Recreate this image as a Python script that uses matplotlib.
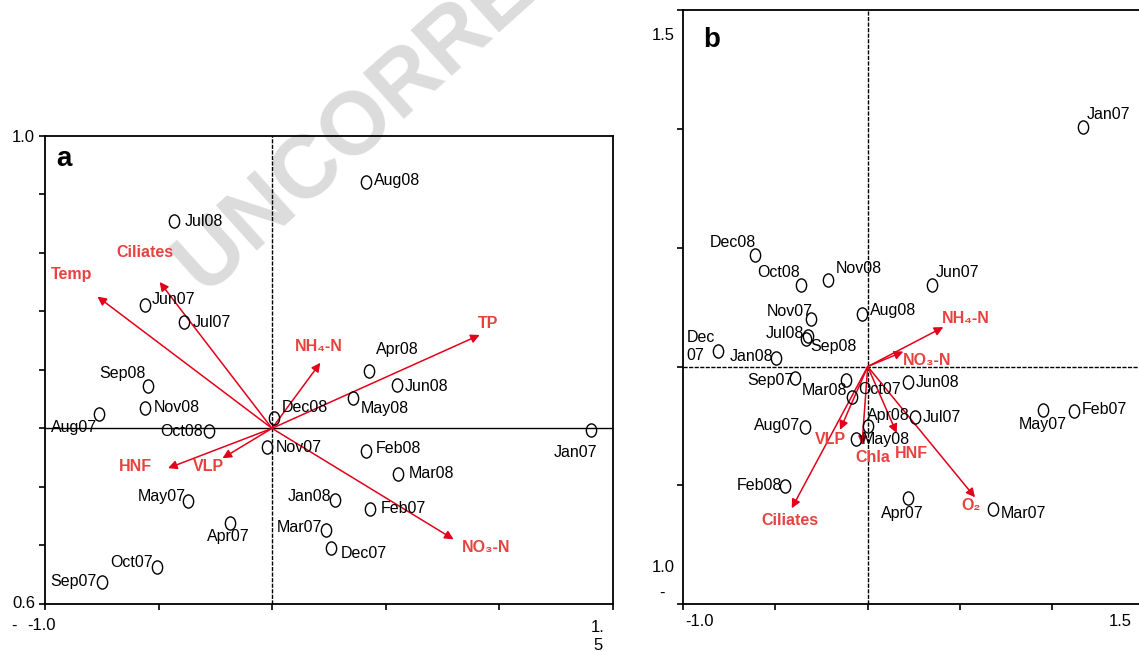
import numpy as np
import matplotlib
matplotlib.use("Agg")
import matplotlib.pyplot as plt
from matplotlib.path import Path
from matplotlib.transforms import Affine2D

plt.rcParams["font.family"] = ["Liberation Sans", "DejaVu Sans"]

W, H = 1139, 651
ARROW_C, VAR_C = "#e2001a", "#e8423f"

# ---- panel a: sample scores ----
a_names = ["Aug08", "Jul08", "Jun07", "Jul07", "Sep08", "Nov08", "Aug07", "Oct08",
           "Dec08", "Nov07", "May07", "Apr07", "Oct07", "Sep07", "Apr08", "Jun08",
           "May08", "Jan07", "Feb08", "Mar08", "Jan08", "Feb07", "Mar07", "Dec07"]
a_x = [0.413, -0.433, -0.561, -0.389, -0.548, -0.558, -0.763, -0.279,
       0.007, -0.022, -0.370, -0.186, -0.507, -0.749, 0.427, 0.549,
       0.359, 1.405, 0.414, 0.555, 0.279, 0.430, 0.237, 0.259]
a_y = [0.842, 0.708, 0.421, 0.363, 0.145, 0.069, 0.049, -0.008,
       0.035, -0.065, -0.248, -0.324, -0.472, -0.524, 0.196, 0.148,
       0.103, -0.005, -0.076, -0.156, -0.245, -0.276, -0.347, -0.410]

# ---- panel a: explanatory variables ----
a_vars = ["Temp", "Ciliates", "NH₄-N", "TP", "NO₃-N", "HNF", "VLP"]
a_vx = [-0.769, -0.495, 0.213, 0.915, 0.800, -0.458, -0.218]
a_vy = [0.450, 0.500, 0.224, 0.319, -0.379, -0.136, -0.102]

# ---- panel b: sample scores ----
b_names = ["Jan07", "Dec08", "Oct08", "Nov08", "Jun07", "Aug08", "Nov07", "Jul08",
           "Sep08", "Dec\n07", "Jan08", "Sep07", "Mar08", "Oct07", "Jun08", "Apr08",
           "Jul07", "May08", "Aug07", "Feb08", "Apr07", "Mar07", "May07", "Feb07"]
b_x = [1.166, -0.611, -0.362, -0.215, 0.347, -0.029, -0.306, -0.322,
       -0.336, -0.810, -0.497, -0.394, -0.119, -0.084, 0.220, -0.001,
       0.259, -0.066, -0.338, -0.447, 0.219, 0.681, 0.949, 1.120]
b_y = [1.009, 0.470, 0.344, 0.365, 0.344, 0.223, 0.202, 0.130,
       0.115, 0.066, 0.038, -0.046, -0.056, -0.126, -0.064, -0.250,
       -0.212, -0.304, -0.256, -0.503, -0.551, -0.600, -0.182, -0.185]

# ---- panel b: explanatory variables ----
b_vars = ["NH₄-N", "NO₃-N", "O₂", "Ciliates", "VLP", "Chla", "HNF"]
b_vx = [0.410, 0.193, 0.582, -0.412, -0.150, -0.031, 0.157]
b_vy = [0.166, 0.063, -0.550, -0.596, -0.266, -0.330, -0.280]

# label placement: (ha, dx, dy) in pixels from the symbol
a_lab = {"Aug08": ("left", 8, 1), "Jul08": ("left", 11, 0), "Jun07": ("left", 7, 6),
         "Jul07": ("left", 9, 0), "Sep08": ("right", -2, 12), "Nov08": ("left", 8, 1),
         "Aug07": ("right", -2, -13), "Oct08": ("right", -6, -1), "Dec08": ("left", 8, 11),
         "Nov07": ("left", 9, 0), "May07": ("right", -2, 4), "Apr07": ("center", -1, -13),
         "Oct07": ("right", -4, 4), "Sep07": ("right", -5, 0), "Apr08": ("left", 7, 21),
         "Jun08": ("left", 8, -1), "May08": ("left", 7, -10), "Jan07": ("right", 6, -23),
         "Feb08": ("left", 10, 2), "Mar08": ("left", 11, 1), "Jan08": ("right", -4, 4),
         "Feb07": ("left", 11, 1), "Mar07": ("right", -4, 2), "Dec07": ("left", 10, -5)}
b_lab = {"Jan07": ("left", 4, 12), "Dec08": ("right", 1, 12), "Oct08": ("right", -1, 12),
         "Nov08": ("left", 8, 11), "Jun07": ("left", 4, 12), "Aug08": ("left", 8, 3),
         "Nov07": ("right", 1, 7), "Jul08": ("right", -4, 2), "Sep08": ("left", 5, -7),
         "Dec\n07": ("left", -32, 4), "Jan08": ("right", -3, 1), "Sep07": ("right", -2, -3),
         "Mar08": ("right", 1, -11), "Oct07": ("left", 6, 7), "Jun08": ("left", 7, -1),
         "Apr08": ("left", -1, 11), "Jul07": ("left", 7, -1), "May08": ("left", 6, -1),
         "Aug07": ("right", -5, 2), "Feb08": ("right", -3, 1), "Apr07": ("center", -6, -16),
         "Mar07": ("left", 7, -4), "May07": ("center", 0, -15), "Feb07": ("left", 8, 1)}
a_vlab = {"Temp": (-26, 22), "Ciliates": (-15, 29), "NH₄-N": (-2, 16), "TP": (8, 11),
          "NO₃-N": (33, -8), "HNF": (-33, 2), "VLP": (-14, -8)}
b_vlab = {"NH₄-N": (23, 9), "NO₃-N": (24, -9), "O₂": (-4, -8), "Ciliates": (-2, -12),
          "VLP": (-10, -10), "Chla": (11, -12), "HNF": (15, -20)}

# open, slightly tall ellipse used for sample symbols
ELL = Path.unit_circle().transformed(Affine2D().scale(0.78, 1.0))


def frac(px, py):
    return px / W, 1 - py / H


def biplot(ax, xs, ys, names, labs, vx, vy, vnames, vlabs, hsolid):
    ax.axvline(0, color="black", lw=1.0, ls=(0, (3, 1)), zorder=1)
    ax.axhline(0, color="black", lw=1.0, ls="-" if hsolid else (0, (3, 1)), zorder=1)
    for x, y, nm in zip(vx, vy, vnames):
        ax.annotate("", xy=(x, y), xytext=(0, 0),
                    arrowprops=dict(arrowstyle="-|>", color=ARROW_C, lw=1.1,
                                    mutation_scale=13, shrinkA=0, shrinkB=0), zorder=3)
        dx, dy = vlabs[nm]
        ax.annotate(nm, (x, y), xytext=(dx, dy), textcoords="offset pixels",
                    ha="center", va="center", fontsize=11.5, fontweight="bold",
                    color=VAR_C, zorder=4)
    ax.plot(xs, ys, ls="none", marker=ELL, ms=9.5, mfc="none", mec="black",
            mew=1.0, zorder=5)
    for x, y, nm in zip(xs, ys, names):
        ha, dx, dy = labs[nm]
        ax.annotate(nm, (x, y), xytext=(dx, dy), textcoords="offset pixels",
                    ha=ha, va="center", fontsize=11.5, color="black", zorder=6,
                    linespacing=1.25)
    ax.set_facecolor("none")
    for s in ("left", "bottom", "top", "right"):
        ax.spines[s].set_linewidth(1.3)
    ax.tick_params(direction="out", length=4, width=1.2, labelleft=False,
                   labelbottom=False, top=False, right=False)


fig = plt.figure(figsize=(W / 100, H / 100), dpi=100)

# faint diagonal proof stamp behind the plots
fig.text(*frac(190, 280), "UNCORRECTED PROOF", rotation=42, rotation_mode="anchor",
         ha="left", va="center", fontsize=64, fontweight="bold", color="#dcdcdc",
         zorder=-5)

axa = fig.add_axes([45 / W, 1 - 604 / H, (612.5 - 45) / W, (604 - 135.6) / H])
biplot(axa, a_x, a_y, a_names, a_lab, a_vx, a_vy, a_vars, a_vlab, True)
axa.set_xlim(-1.0, 1.5)
axa.set_ylim(-0.6, 1.0)
axa.set_xticks(np.arange(-1.0, 1.51, 0.5))
axa.set_yticks(np.arange(-0.6, 1.01, 0.2))
axa.text(0.02, 0.95, "a", transform=axa.transAxes, fontsize=20, fontweight="bold",
         ha="left", va="center")

axb = fig.add_axes([683.3 / W, 1 - 604.3 / H, (1144.3 - 683.3) / W, (604.3 - 10) / H])
biplot(axb, b_x, b_y, b_names, b_lab, b_vx, b_vy, b_vars, b_vlab, False)
axb.set_xlim(-1.0, 1.5)
axb.set_ylim(-1.0, 1.5)
axb.set_xticks(np.arange(-1.0, 1.51, 0.5))
axb.set_yticks(np.arange(-1.0, 1.51, 0.5))
axb.text(*frac(712, 40), "b", transform=fig.transFigure, fontsize=20,
         fontweight="bold", ha="center", va="center")

# axis end labels
tk = dict(fontsize=12, va="center", color="black")
fig.text(*frac(35, 137), "1.0", ha="right", **tk)
fig.text(*frac(35, 604), "0.6", ha="right", **tk)
fig.text(*frac(14, 626), "-", ha="center", **tk)
fig.text(*frac(42, 626), "-1.0", ha="center", **tk)
fig.text(*frac(598, 627), "1.", ha="center", **tk)
fig.text(*frac(598, 645), "5", ha="center", **tk)
fig.text(*frac(675, 35), "1.5", ha="right", **tk)
fig.text(*frac(675, 568), "1.0", ha="right", **tk)
fig.text(*frac(662, 593), "-", ha="center", **tk)
fig.text(*frac(700, 622), "-1.0", ha="center", **tk)
fig.text(*frac(1120, 622), "1.5", ha="center", **tk)

fig.savefig("out.png", dpi=100)
